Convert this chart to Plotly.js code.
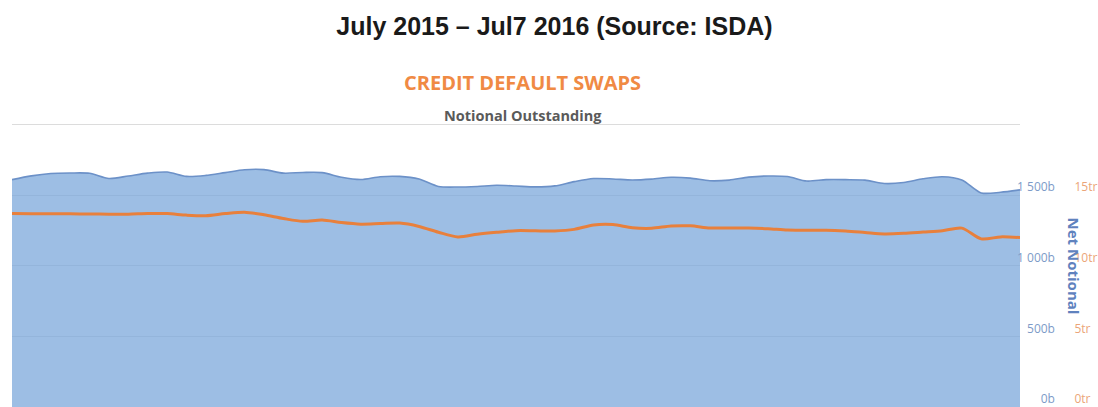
<!DOCTYPE html>
<html>
<head>
<meta charset="utf-8">
<script src="https://cdn.plot.ly/plotly-3.0.1.min.js"></script>
<style>
html,body{margin:0;padding:0;overflow:hidden;background:#fff;}
#chart{width:1098px;height:407px;}
</style>
</head>
<body>
<div id="chart"></div>
<script>
// Weekly observations, July 2015 – July 2016
const weeks = [
  '2015-07-03','2015-07-10','2015-07-17','2015-07-24','2015-07-31','2015-08-07','2015-08-14','2015-08-21','2015-08-28',
  '2015-09-04','2015-09-11','2015-09-18','2015-09-25','2015-10-02','2015-10-09','2015-10-16','2015-10-23','2015-10-30',
  '2015-11-06','2015-11-13','2015-11-20','2015-11-27','2015-12-04','2015-12-11','2015-12-18','2015-12-25','2016-01-01',
  '2016-01-08','2016-01-15','2016-01-22','2016-01-29','2016-02-05','2016-02-12','2016-02-19','2016-02-26','2016-03-04',
  '2016-03-11','2016-03-18','2016-03-25','2016-04-01','2016-04-08','2016-04-15','2016-04-22','2016-04-29','2016-05-06',
  '2016-05-13','2016-05-20','2016-05-27','2016-06-03','2016-06-10','2016-06-17','2016-06-24','2016-07-01'
];
// Net notional (billions of USD)
const netNotional = [
  1609,1636,1653,1656,1654,1617,1635,1655,1663,1632,1639,1659,1679,1680,1655,1660,1659,1626,
  1610,1630,1632,1613,1561,1557,1561,1569,1564,1558,1565,1595,1617,1614,1607,1613,1626,1620,
  1601,1606,1627,1635,1631,1599,1609,1609,1606,1582,1589,1615,1630,1607,1515,1520,1537
];
// Gross notional (trillions of USD)
const grossNotional = [
  13.69,13.68,13.67,13.67,13.66,13.65,13.65,13.69,13.69,13.58,13.54,13.69,13.79,13.60,13.34,13.14,13.23,13.05,
  12.94,12.98,13.02,12.78,12.37,12.04,12.22,12.36,12.48,12.47,12.46,12.57,12.88,12.91,12.69,12.65,12.81,12.82,
  12.67,12.67,12.67,12.62,12.52,12.51,12.51,12.45,12.35,12.25,12.29,12.38,12.47,12.66,11.90,12.04,11.99
];
// Axis ticks
const netTickVals = [0, 500, 1000, 1500, 2000];
const netTickText = ['0b', '500b', '1 000b', '1 500b', ''];
const grossTickVals = [0, 5, 10, 15, 20];
const grossTickText = ['0tr', '5tr', '10tr', '15tr', ''];

const mainTitle = 'July 2015 – Jul7 2016 (Source: ISDA)';
const chartTitle = 'CREDIT DEFAULT SWAPS';
const chartSubtitle = 'Notional Outstanding';
const netAxisTitle = 'Net Notional';

const traces = [
  {
    x: weeks, y: netNotional, type: 'scatter', mode: 'lines', name: 'Net Notional',
    line: {color: 'rgb(108,145,200)', width: 1.6, shape: 'spline', smoothing: 0.8},
    fill: 'tozeroy', fillcolor: 'rgba(124,168,219,0.75)',
    yaxis: 'y', hoverinfo: 'x+y'
  },
  {
    x: weeks, y: grossNotional, type: 'scatter', mode: 'lines', name: 'Gross Notional',
    line: {color: 'rgb(232,128,60)', width: 3, shape: 'spline', smoothing: 0.8},
    yaxis: 'y2', hoverinfo: 'x+y'
  }
];

const layout = {
  width: 1098, height: 407,
  margin: {l: 12, r: 10, t: 123, b: 0},
  paper_bgcolor: '#fff', plot_bgcolor: 'rgba(0,0,0,0)',
  showlegend: false,
  title: {
    text: mainTitle, x: 0.505, xanchor: 'center', y: 0.936, yanchor: 'middle',
    font: {family: 'Liberation Sans, Arial, sans-serif', size: 25, color: '#1a1a1a', weight: 'bold'}
  },
  xaxis: {
    type: 'date', domain: [0, 0.9368], range: [weeks[0], weeks[weeks.length - 1]],
    showgrid: false, showticklabels: false, zeroline: false, showline: false, ticks: ''
  },
  yaxis: {
    range: [0, 2010], side: 'left', anchor: 'free', position: 0.9693,
    tickvals: netTickVals, ticktext: netTickText, ticks: '',
    ticklabelshift: -8, ticklabeloverflow: 'allow',
    showgrid: true, gridcolor: '#dcdcdc', gridwidth: 1, zeroline: false, showline: false,
    tickfont: {family: 'Open Sans, sans-serif', size: 12, color: 'rgb(125,155,200)'}
  },
  yaxis2: {
    range: [0, 20.1], overlaying: 'y', side: 'right', anchor: 'free', position: 0.9865,
    tickvals: grossTickVals, ticktext: grossTickText, ticks: '',
    ticklabelshift: -8, ticklabeloverflow: 'allow',
    showgrid: false, zeroline: false, showline: false,
    tickfont: {family: 'Open Sans, sans-serif', size: 12, color: 'rgb(235,165,120)'}
  },
  annotations: [
    {
      text: chartTitle, xref: 'paper', yref: 'paper', x: 0.474, y: 1.141,
      xanchor: 'center', yanchor: 'middle', showarrow: false,
      font: {family: 'Open Sans, sans-serif', size: 20, color: 'rgb(240,138,68)', weight: 'bold'}
    },
    {
      text: chartSubtitle, xref: 'paper', yref: 'paper', x: 0.475, y: 1.028,
      xanchor: 'center', yanchor: 'middle', showarrow: false,
      font: {family: 'Open Sans, sans-serif', size: 14.5, color: '#5a5a5a', weight: 'bold'}
    },
    {
      text: netAxisTitle, xref: 'paper', yref: 'paper', x: 0.987, y: 0.498,
      xanchor: 'center', yanchor: 'middle', showarrow: false, textangle: 90,
      font: {family: 'Open Sans, sans-serif', size: 15, color: 'rgb(95,130,190)', weight: 'bold'}
    }
  ]
};

Plotly.newPlot('chart', traces, layout, {staticPlot: true, displayModeBar: false});
</script>
</body>
</html>
